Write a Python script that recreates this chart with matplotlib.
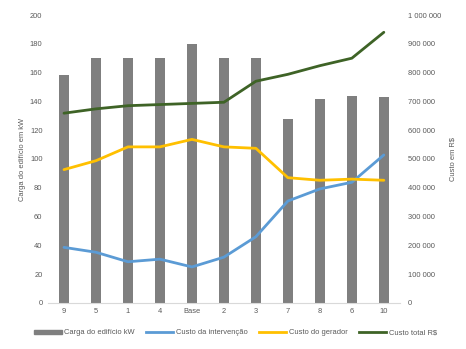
import matplotlib
matplotlib.use("Agg")
import matplotlib.pyplot as plt
from matplotlib.ticker import FuncFormatter
from matplotlib.patches import Patch
from matplotlib.lines import Line2D

plt.rcParams['font.family'] = ['Liberation Sans', 'DejaVu Sans']

categories = ["9", "5", "1", "4", "Base", "2", "3", "7", "8", "6", "10"]
carga_kw = [158, 170, 170, 170, 180, 170, 170, 128, 142, 144, 143]
custo_intervencao = [193000, 176000, 143000, 152000, 125000, 159000, 230000, 354000, 396000, 419000, 514000]
custo_gerador = [463000, 494000, 542000, 542000, 568000, 542000, 537000, 435000, 426000, 430000, 426000]
custo_total = [659000, 674000, 685000, 689000, 693000, 697000, 770000, 794000, 824000, 850000, 940000]

grey_txt = "#595959"
green = "#3e6326"
fs = 5.4
fig = plt.figure(figsize=(4.66, 3.49), dpi=100)
ax = fig.add_axes([0.103, 0.132, 0.755, 0.825])
x = list(range(len(categories)))
ax.bar(x, carga_kw, width=0.31, color="#7f7f7f", zorder=1)
ax.set_ylim(0, 200)
ax.set_yticks(range(0, 201, 20))
ax.set_xlim(-0.5, len(categories) - 0.5)
ax.set_xticks(x)
ax.set_xticklabels(categories)
ax.set_ylabel("Carga do edifício em kW", fontsize=fs, color=grey_txt, labelpad=3)

ax2 = ax.twinx()
ax2.plot(x, custo_intervencao, color="#5b9bd5", lw=2.0, solid_capstyle="round")
ax2.plot(x, custo_gerador, color="#ffc000", lw=2.0, solid_capstyle="round")
ax2.plot(x, custo_total, color=green, lw=2.0, solid_capstyle="round")
ax2.set_ylim(0, 1000000)
ax2.set_yticks(range(0, 1000001, 100000))
ax2.yaxis.set_major_formatter(FuncFormatter(lambda v, p: f"{int(v):,}".replace(",", " ")))
ax2.set_ylabel("Custo em R$", fontsize=fs, color=grey_txt, labelpad=6)

for a in (ax, ax2):
    for s in a.spines.values():
        s.set_visible(False)
    a.tick_params(length=0, labelsize=fs, labelcolor=grey_txt, pad=4)
ax2.tick_params(axis='y', pad=6)
ax.spines['bottom'].set_visible(True)
ax.spines['bottom'].set_color("#d9d9d9")
ax.spines['bottom'].set_linewidth(0.8)

handles = [Patch(color="#7f7f7f"),
           Line2D([], [], color="#5b9bd5", lw=2),
           Line2D([], [], color="#ffc000", lw=2),
           Line2D([], [], color=green, lw=2)]
labels = ["Carga do edifício kW", "Custo da intervenção", "Custo do gerador", "Custo total R$"]
fig.legend(handles, labels, loc="center", bbox_to_anchor=(0.505, 0.046), ncol=4, frameon=False,
           fontsize=fs, labelcolor=grey_txt, handlelength=3.7, handleheight=0.45, columnspacing=1.5,
           handletextpad=0.3)

fig.savefig("out.png", dpi=100)
